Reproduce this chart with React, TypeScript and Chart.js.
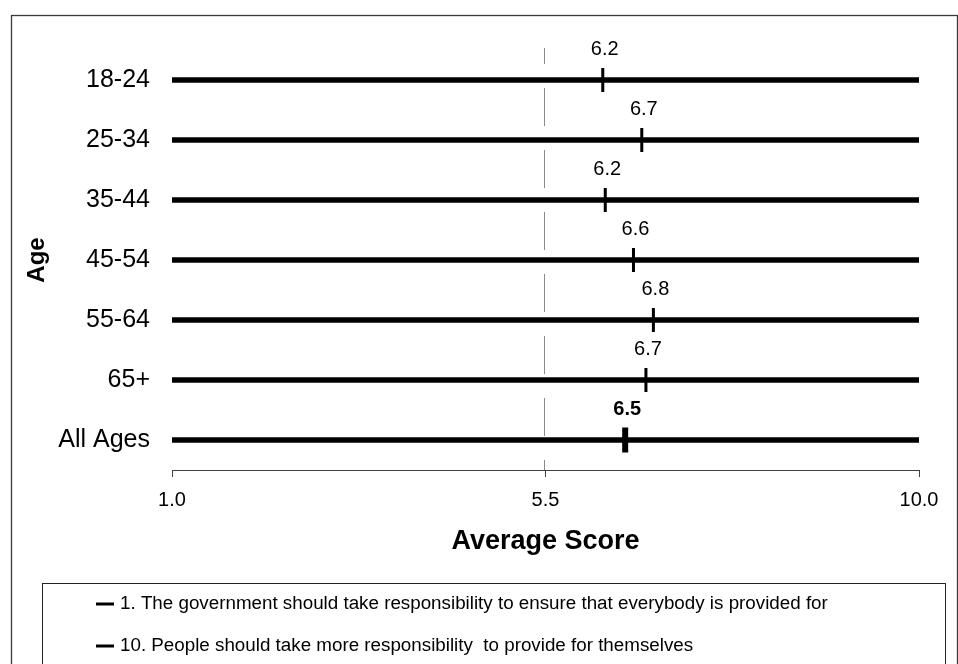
import React, { useEffect, useRef } from "react";
import { Chart, registerables } from "chart.js";

Chart.register(...registerables);

const AGE_GROUPS = ["18-24", "25-34", "35-44", "45-54", "55-64", "65+", "All Ages"];
const AVERAGE_SCORES = [6.19, 6.66, 6.22, 6.56, 6.8, 6.71, 6.46];
const SCALE_RANGE: [number, number] = [1, 10];
const X_TICKS = [1, 5.5, 10];
const MIDPOINT = 5.5;
const HIGHLIGHT = "All Ages";
const LEGEND_LABELS = [
  "1. The government should take responsibility to ensure that everybody is provided for",
  "10. People should take more responsibility  to provide for themselves",
];
const X_TITLE = "Average Score";
const Y_TITLE = "Age";

const FONT = "'Liberation Sans', Arial, Helvetica, sans-serif";

const decorPlugin = {
  id: "decor",
  beforeDatasetsDraw(chart: any) {
    const { ctx, chartArea, scales } = chart;
    const x = Math.floor(scales.x.getPixelForValue(MIDPOINT)) - 0.5;
    ctx.save();
    ctx.strokeStyle = "#8a8a8a";
    ctx.lineWidth = 1;
    ctx.setLineDash([38, 24]);
    ctx.lineDashOffset = 22;
    ctx.beginPath();
    ctx.moveTo(x, chartArea.top - 2);
    ctx.lineTo(x, chartArea.bottom);
    ctx.stroke();
    ctx.restore();
  },
  afterDatasetsDraw(chart: any) {
    const { ctx } = chart;
    const meta = chart.getDatasetMeta(1);
    ctx.save();
    ctx.fillStyle = "#000";
    ctx.textAlign = "center";
    ctx.textBaseline = "middle";
    meta.data.forEach((pt: any, i: number) => {
      const bold = AGE_GROUPS[i] === HIGHLIGHT;
      ctx.font = `${bold ? "bold " : ""}20px ${FONT}`;
      ctx.fillText(AVERAGE_SCORES[i].toFixed(1), pt.x + 2, pt.y - 31);
    });
    ctx.restore();
  },
  afterDraw(chart: any) {
    const { ctx } = chart;
    ctx.save();
    // outer frame
    ctx.strokeStyle = "#3a3a3a";
    ctx.lineWidth = 1.3;
    ctx.strokeRect(11.5, 15.5, 946, 700);
    // legend box
    ctx.strokeStyle = "#222";
    ctx.lineWidth = 1;
    ctx.strokeRect(42.5, 583.5, 903, 200);
    ctx.fillStyle = "#000";
    ctx.textAlign = "left";
    ctx.textBaseline = "middle";
    ctx.font = `18.8px ${FONT}`;
    LEGEND_LABELS.forEach((label, i) => {
      const y = 604 + i * 42;
      ctx.strokeStyle = "#000";
      ctx.lineWidth = 3;
      ctx.beginPath();
      ctx.moveTo(96, y);
      ctx.lineTo(114, y);
      ctx.stroke();
      ctx.fillText(label, 120, y);
    });
    ctx.restore();
  },
};

export default function App() {
  const canvasRef = useRef<HTMLCanvasElement | null>(null);

  useEffect(() => {
    const canvas = canvasRef.current;
    if (!canvas) return;
    const chart = new Chart(canvas, {
      type: "bar",
      data: {
        labels: AGE_GROUPS,
        datasets: [
          {
            type: "bar",
            label: "range",
            data: AGE_GROUPS.map(() => SCALE_RANGE) as any,
            backgroundColor: "#000",
            borderWidth: 0,
            barThickness: 5,
            indexAxis: "y",
            order: 1,
          } as any,
          {
            type: "line",
            label: "average",
            data: AVERAGE_SCORES,
            indexAxis: "y",
            showLine: false,
            pointStyle: "line",
            pointRotation: 90,
            pointRadius: AGE_GROUPS.map((g) => (g === HIGHLIGHT ? 12.5 : 12)),
            pointBorderWidth: AGE_GROUPS.map((g) => (g === HIGHLIGHT ? 6 : 3)),
            pointBorderColor: "#000",
            pointBackgroundColor: "#000",
            borderColor: "#000",
            order: 0,
          } as any,
        ],
      },
      options: {
        responsive: false,
        animation: false,
        devicePixelRatio: 1,
        indexAxis: "y",
        layout: { padding: { left: 0, right: 39, top: 50, bottom: 94 } },
        plugins: { legend: { display: false }, tooltip: { enabled: false } },
        scales: {
          x: {
            type: "linear",
            min: SCALE_RANGE[0],
            max: SCALE_RANGE[1],
            afterBuildTicks: (s: any) => {
              s.ticks = X_TICKS.map((v) => ({ value: v }));
            },
            afterFit: (s: any) => {
              s.height = 100;
            },
            grid: {
              drawOnChartArea: false,
              drawTicks: true,
              tickLength: 7,
              color: "#404040",
              lineWidth: 1,
            },
            border: { display: true, color: "#404040", width: 1 },
            ticks: {
              font: { family: FONT, size: 20 },
              color: "#000",
              padding: 11,
              maxRotation: 0,
              autoSkip: false,
              callback: (v: any) => Number(v).toFixed(1),
            },
            title: {
              display: true,
              text: X_TITLE,
              font: { family: FONT, size: 27, weight: "bold" },
              color: "#000",
              padding: { top: 0, bottom: 12 },
            },
          },
          y: {
            type: "category",
            labels: AGE_GROUPS,
            offset: true,
            afterFit: (s: any) => {
              s.width = 172;
            },
            grid: { display: false, drawTicks: false },
            border: { display: false },
            ticks: {
              font: { family: FONT, size: 25 },
              color: "#000",
              padding: 22,
            },
            title: {
              display: true,
              text: Y_TITLE,
              font: { family: FONT, size: 24, weight: "bold" },
              color: "#000",
              padding: { top: 23, bottom: 0 },
            },
          },
        },
      } as any,
      plugins: [decorPlugin],
    });
    return () => chart.destroy();
  }, []);

  return (
    <div style={{ position: "absolute", left: 0, top: 0, width: 958, height: 664, background: "#fff" }}>
      <canvas ref={canvasRef} width={958} height={664} style={{ display: "block", width: 958, height: 664 }} />
    </div>
  );
}
